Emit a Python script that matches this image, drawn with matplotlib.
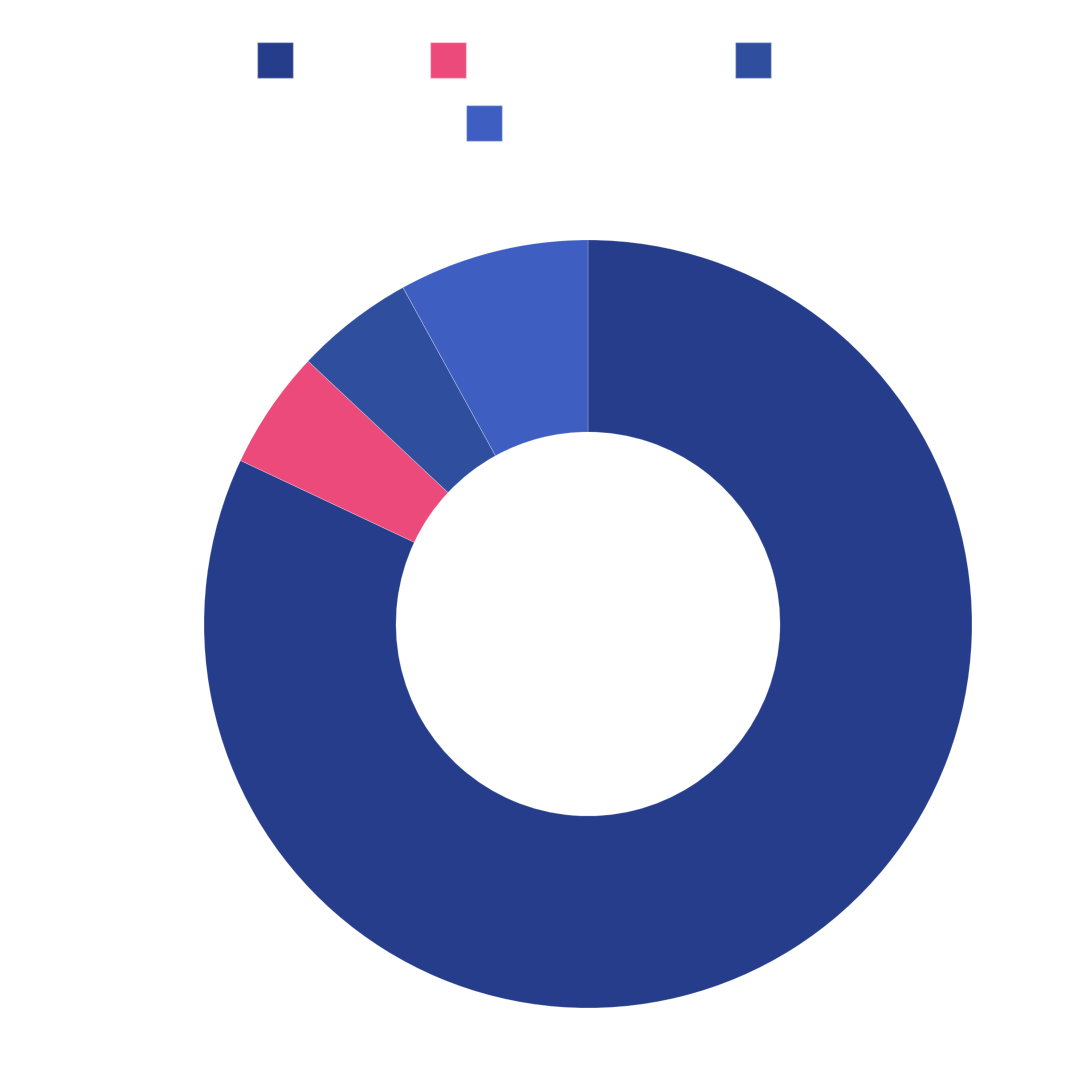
import matplotlib
matplotlib.use('Agg')
from matplotlib import pyplot as plt
from matplotlib.patches import Patch

# Segment shares (percent), clockwise from 12 o'clock
values = [82.0, 5.0, 5.0, 8.0]
colors = ['#263d8b', '#eb4a7a', '#304e9e', '#3e5fc1']
labels = ['', '', '', '']

# legend swatch positions (top-left corner, pixels from top-left of figure)
legend_pos = [(257, 42), (430, 42), (735, 42), (466, 105)]

W = H = 1080
fig = plt.figure(figsize=(W / 100, H / 100), dpi=100)

cx, cy, r = 588, 624, 384
ax = fig.add_axes([(cx - r) / W, (H - cy - r) / H, 2 * r / W, 2 * r / H])
ax.pie(values, colors=colors, startangle=90, counterclock=False, radius=1,
       wedgeprops=dict(width=0.5, edgecolor='#ffffff40', linewidth=0.6))
ax.set_xlim(-1, 1)
ax.set_ylim(-1, 1)
ax.set_aspect('equal')
ax.axis('off')

fs = 36 * 72 / 100
for i, (x, y) in enumerate(legend_pos):
    handle = Patch(facecolor=colors[i], edgecolor='#ffffff60', linewidth=1)
    fig.legend(handles=[handle], labels=[labels[i]], loc='upper left',
               bbox_to_anchor=(x / W, 1 - y / H), bbox_transform=fig.transFigure,
               frameon=False, borderpad=0, borderaxespad=0, fontsize=fs,
               handlelength=1.0, handleheight=1.16, handletextpad=0)

plt.savefig('out.png', dpi=100)
plt.close()
